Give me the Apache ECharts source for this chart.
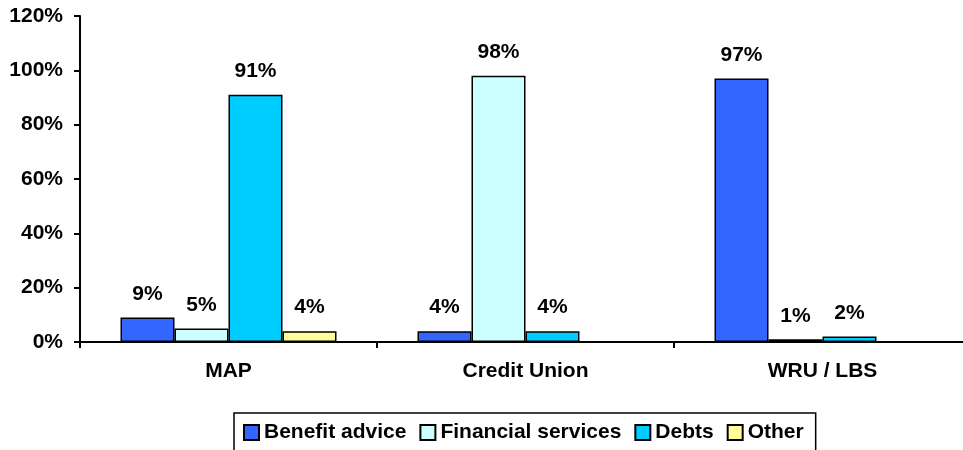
<!DOCTYPE html>
<html>
<head>
<meta charset="utf-8">
<script src="https://cdn.jsdelivr.net/npm/echarts@6/dist/echarts.min.js"></script>
<style>
  html, body { margin: 0; padding: 0; background: #fff; }
  #chart { width: 963px; height: 450px; }
</style>
</head>
<body>
<div id="chart"></div>
<script>
// categories and series values (percent)
const categories = ["MAP", "Credit Union", "WRU / LBS"];
const benefitAdvice = [9, 4, 97];
const financialServices = [5, 98, 1];
const debts = [91, 4, 2];
const other = [4, null, null];

const fontFamily = "Liberation Sans, Arial, sans-serif";

let myChart = echarts.init(document.getElementById("chart"));

function makeSeries(name, data, color) {
  return {
    name: name,
    type: "bar",
    data: data,
    barWidth: 54,
    barGap: "0%",
    itemStyle: {
      color: color,
      borderColor: "#000",
      borderWidth: 1.5,
    },
    label: {
      show: true,
      position: "top",
      distance: 13,
      formatter: "{c}%",
      color: "#000",
      fontFamily: fontFamily,
      fontWeight: "bold",
      fontSize: 21,
    },
  };
}

const option = {
  animation: false,
  backgroundColor: "#fff",
  grid: {
    left: 80,
    top: 16,
    width: 891,
    height: 326,
    outerBoundsMode: "none",
  },
  xAxis: {
    type: "category",
    data: categories,
    axisLine: { lineStyle: { color: "#000", width: 2 } },
    axisTick: { show: true, length: 6, lineStyle: { color: "#000", width: 2 } },
    axisLabel: {
      color: "#000",
      fontFamily: fontFamily,
      fontWeight: "bold",
      fontSize: 21,
      margin: 19,
    },
  },
  yAxis: {
    type: "value",
    min: 0,
    max: 120,
    interval: 20,
    splitLine: { show: false },
    axisLine: { show: true, lineStyle: { color: "#000", width: 2 } },
    axisTick: { show: true, length: 6, lineStyle: { color: "#000", width: 2 } },
    axisLabel: {
      formatter: "{value}%",
      color: "#000",
      fontFamily: fontFamily,
      fontWeight: "bold",
      fontSize: 21,
      margin: 17,
    },
  },
  legend: {
    left: 234,
    top: 413,
    orient: "horizontal",
    borderColor: "#000",
    borderWidth: 1.5,
    borderRadius: 0,
    padding: [9, 12, 8, 9],
    itemWidth: 15,
    itemHeight: 15,
    itemGap: 13,
    icon: "rect",
    textStyle: {
      color: "#000",
      fontFamily: fontFamily,
      fontWeight: "bold",
      fontSize: 21,
    },
  },
  series: [
    makeSeries("Benefit advice", benefitAdvice, "#3366FF"),
    makeSeries("Financial services", financialServices, "#CCFFFF"),
    makeSeries("Debts", debts, "#00CCFF"),
    makeSeries("Other", other, "#FFFF99"),
  ],
};

myChart.setOption(option, true);
</script>
</body>
</html>
